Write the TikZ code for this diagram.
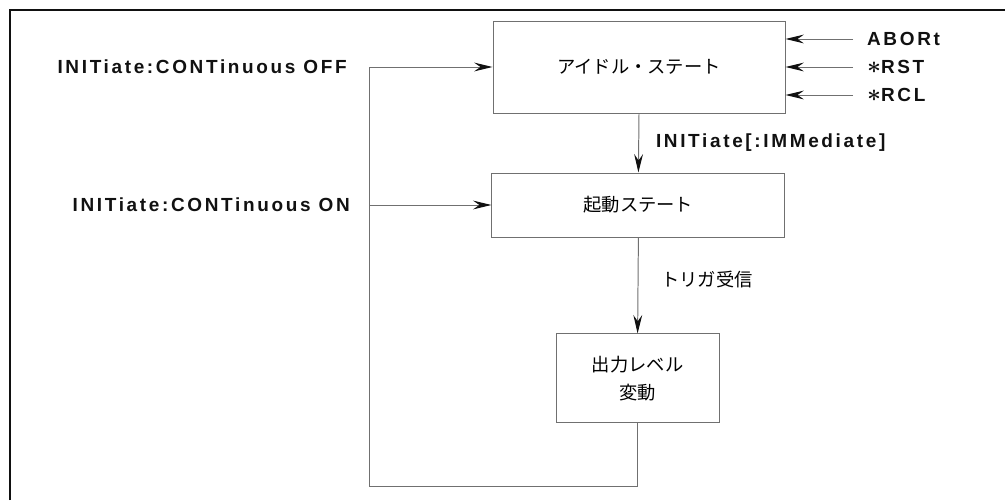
\documentclass[tikz,border=0pt]{standalone}
\usepackage{fontspec}
\usepackage{tikz}
\usetikzlibrary{arrows.meta,positioning,calc}
\setmainfont{Liberation Sans}
\newfontfamily\cmdfont[LetterSpace=14]{Liberation Sans}
\newfontfamily\jpfont{Noto Sans CJK JP}
\newcommand{\bigast}{\smash{\raisebox{0pt}{\fontsize{18}{18}\selectfont\boldmath$\ast$}}}
\definecolor{ink}{HTML}{111111}
\definecolor{wire}{HTML}{707070}
\tikzset{
  statebox/.style={draw=wire,line width=0.7pt,align=center,inner sep=0pt,
                   font=\jpfont\fontsize{13}{20}\selectfont},
  cmd/.style={font=\cmdfont\bfseries\fontsize{13.5}{15}\selectfont,text=ink,
              inner sep=2pt},
  jplabel/.style={font=\jpfont\fontsize{13}{15}\selectfont,inner sep=2pt},
  wirearr/.style={-{Stealth[length=4.6mm,width=2.2mm,inset=1.6mm,color=ink]},
                  line width=0.7pt,draw=wire},
  frameline/.style={line width=1.4pt,draw=ink}
}

\begin{document}
\begin{tikzpicture}[x=1cm,y=1cm]
    \path[use as bounding box] (0,0) rectangle (25.125,12.5);
    \draw[frameline] (0.25,0) -- (0.25,12.25) -- (25.125,12.25);

    \node[statebox,minimum width=7.3cm,minimum height=2.3cm] (idle)
      at (15.975,10.825) {アイドル・ステート};
    \node[statebox,minimum width=7.325cm,minimum height=1.6cm] (start)
      at (15.96,7.375) {起動ステート};
    \node[statebox,minimum width=4.075cm,minimum height=2.225cm] (out)
      at (15.94,3.04) {出力レベル\\変動};

    \draw[wirearr] (idle.south) -- (start.north)
      node[cmd,midway,right=0.35cm] (imm) {INITiate[:IMMediate]};
    \draw[wirearr] (start.south) -- (out.north)
      node[jplabel,pos=0.44,right=0.5cm] (trig) {トリガ受信};

    % loop back from the output state
    \coordinate (loop) at (9.225,0.35);
    \draw[wirearr] (out.south) |- (loop) |- (idle.west);
    \draw[wirearr] (loop |- start.west) -- (start.west);

    \node[cmd,anchor=east] (off) at (8.745,10.825) {INITiate:CONTinuous OFF};
    \node[cmd,anchor=east] (on) at (8.82,7.375) {INITiate:CONTinuous ON};

    \node[cmd,anchor=west] (abort) at (21.6,11.525) {ABORt};
    \node[cmd,anchor=west] (rst) at (21.6,10.825) {\bigast RST};
    \node[cmd,anchor=west] (rcl) at (21.6,10.125) {\bigast RCL};
    \foreach \n in {abort,rst,rcl}
      \draw[wirearr] ([xshift=-0.275cm]\n.west) -- (idle.east |- \n.west);
\end{tikzpicture}
\end{document}
